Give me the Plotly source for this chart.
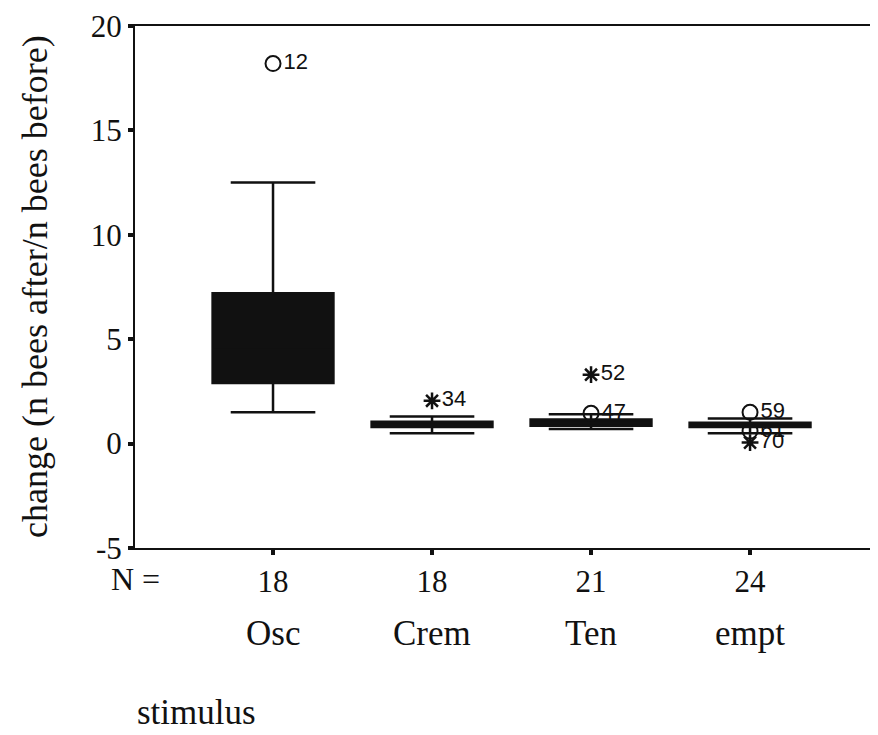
import plotly.graph_objects as go

categories = ["Osc", "Crem", "Ten", "empt"]
n_values = ["18", "18", "21", "24"]
q1 = [2.9, 0.8, 0.85, 0.8]
median = [4.5, 0.9, 1.0, 0.9]
q3 = [7.2, 1.05, 1.15, 1.0]
lower_whisker = [1.5, 0.5, 0.7, 0.5]
upper_whisker = [12.5, 1.3, 1.4, 1.2]

y_ticks = [-5, 0, 5, 10, 15, 20]
y_tick_labels = ["-5", "0", "5", "10", "15", "20"]

# outliers: (category, value, case label)
circle_cat = ["Osc", "Ten", "empt", "empt"]
circle_val = [18.2, 1.45, 1.5, 0.6]
circle_lab = ["12", "47", "59", "61"]
star_cat = ["Crem", "Ten", "empt"]
star_val = [2.05, 3.3, 0.05]
star_lab = ["34", "52", "70"]

serif = "Liberation Serif, Times New Roman, serif"
sans = "Liberation Sans, Arial, sans-serif"
ink = "#111111"

fig = go.Figure()
for i, c in enumerate(categories):
    fig.add_trace(go.Box(
        x=[c], q1=[q1[i]], median=[median[i]], q3=[q3[i]],
        lowerfence=[lower_whisker[i]], upperfence=[upper_whisker[i]],
        fillcolor=ink, line=dict(color=ink, width=2.5),
        width=0.76, whiskerwidth=0.7, boxpoints=False, showlegend=False,
        hoverinfo="skip",
    ))

fig.add_trace(go.Scatter(
    x=circle_cat, y=circle_val, mode="markers+text", text=circle_lab,
    textposition="middle right", textfont=dict(family=sans, size=22, color=ink),
    marker=dict(symbol="circle-open", size=15, color=ink, line=dict(width=2)),
    showlegend=False, cliponaxis=False,
))
fig.add_trace(go.Scatter(
    x=star_cat, y=star_val, mode="markers+text", text=star_lab,
    textposition="middle right", textfont=dict(family=sans, size=22, color=ink),
    marker=dict(symbol="asterisk-open", size=14, color=ink, line=dict(width=2.5)),
    showlegend=False, cliponaxis=False,
))

for c in categories:
    fig.add_annotation(x=c, y=0, xref="x", yref="paper", yanchor="middle",
                       yshift=-85, text=c, showarrow=False,
                       font=dict(family=serif, size=35, color=ink))

fig.add_annotation(x=0, y=0, xref="paper", yref="paper", xanchor="center",
                   yanchor="middle", xshift=0, yshift=-31, text="N =", showarrow=False,
                   font=dict(family=serif, size=32, color=ink))
fig.add_annotation(x=0, y=0, xref="paper", yref="paper", xanchor="left",
                   yanchor="middle", yshift=-164, text="stimulus", showarrow=False,
                   font=dict(family=serif, size=35, color=ink))
fig.add_annotation(x=0, y=0.5, xref="paper", yref="paper", xanchor="center",
                   yanchor="middle", xshift=-100, textangle=-90,
                   text="change (n bees after/n bees before)", showarrow=False,
                   font=dict(family=serif, size=36, color=ink))

fig.update_layout(
    width=878, height=735,
    margin=dict(l=127, r=0, t=18, b=195),
    plot_bgcolor="white", paper_bgcolor="white",
    showlegend=False,
)
fig.update_xaxes(
    type="category", categoryorder="array", categoryarray=categories,
    range=[-0.868, 3.855], tickmode="array", tickvals=categories, ticktext=n_values,
    showline=True, linecolor=ink, linewidth=2, mirror=True,
    ticks="outside", ticklen=5, tickwidth=4, tickcolor=ink,
    showgrid=False, zeroline=False,
    tickfont=dict(family=serif, size=31, color=ink),
)
fig.update_yaxes(
    range=[-5, 20], tickmode="array", tickvals=y_ticks, ticktext=y_tick_labels,
    showline=True, linecolor=ink, linewidth=2,
    ticks="outside", ticklen=5, tickwidth=4, tickcolor=ink,
    showgrid=False, zeroline=False,
    tickfont=dict(family=serif, size=31, color=ink),
)

fig.write_html("out.html")
